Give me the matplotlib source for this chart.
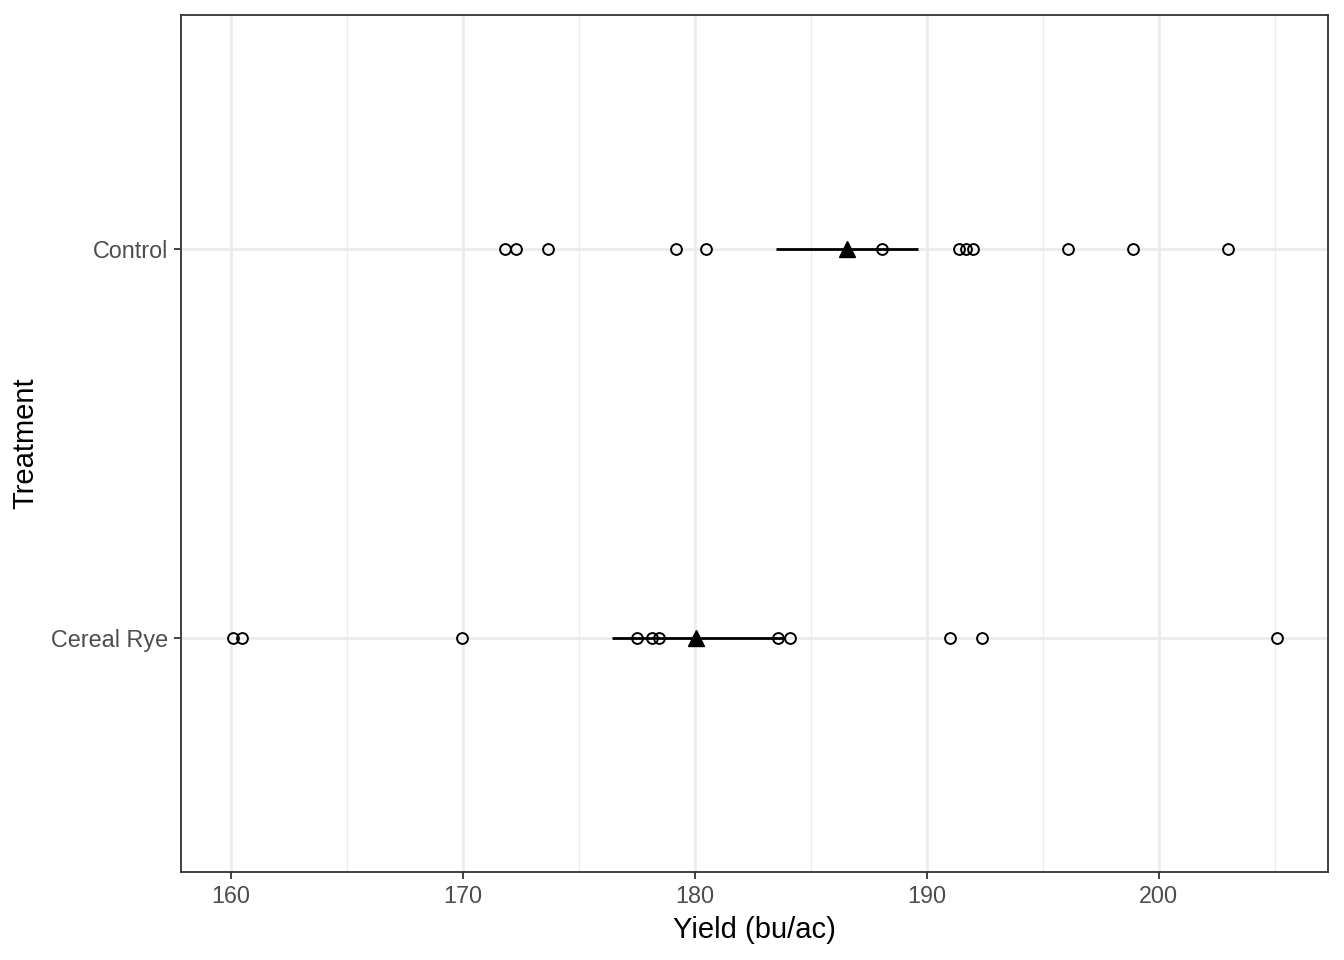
import matplotlib

matplotlib.use("Agg")
import matplotlib.pyplot as plt

plt.rcParams["font.family"] = ["Liberation Sans", "DejaVu Sans"]

# --------------------------------------------------------------------- #
# Data
# --------------------------------------------------------------------- #
treatments = ["Cereal Rye", "Control"]

control_yield = [171.81, 172.28, 173.66, 179.18, 180.47, 188.06,
                 191.38, 191.68, 191.98, 196.08, 198.88, 202.97]
rye_yield = [160.09, 160.47, 169.96, 177.50, 178.15, 178.45,
             183.58, 184.09, 190.99, 192.37, 205.09]

means = [180.04, 186.55]
ci_low = [176.43, 183.49]
ci_high = [183.90, 189.61]

raw = {"Cereal Rye": rye_yield, "Control": control_yield}

# --------------------------------------------------------------------- #
# Plot
# --------------------------------------------------------------------- #
fig = plt.figure(figsize=(13.44, 9.6), dpi=100)
ax = fig.add_axes([181 / 1344, 88 / 960, 1147 / 1344, 857 / 960])

grey92 = "#EBEBEB"
for x in [160, 170, 180, 190, 200]:
    ax.axvline(x, color=grey92, lw=1.9, zorder=0)
for x in [165, 175, 185, 195, 205]:
    ax.axvline(x, color=grey92, lw=1.0, zorder=0)
for y in [1, 2]:
    ax.axhline(y, color=grey92, lw=1.9, zorder=0)

for i, t in enumerate(treatments, start=1):
    vals = raw[t]
    ax.hlines(i, ci_low[i - 1], ci_high[i - 1], color="black", lw=2.0, zorder=2)
    ax.plot(vals, [i] * len(vals), "o", mfc="none", mec="black",
            ms=7.8, mew=1.4, zorder=3)
    ax.plot(means[i - 1], i, "^", color="black", ms=12, zorder=4)

ax.set_xlim(157.84, 207.30)
ax.set_ylim(0.4, 2.6)
ax.set_xticks([160, 170, 180, 190, 200])
ax.set_yticks([1, 2])
ax.set_yticklabels(treatments)

ax.tick_params(axis="both", colors="#333333", length=5.3, width=1.3,
               labelsize=16.8, labelcolor="#4D4D4D", pad=4)
for s in ax.spines.values():
    s.set_color("#333333")
    s.set_linewidth(1.3)

ax.set_xlabel("Yield (bu/ac)", fontsize=21, color="black", labelpad=6)
ax.set_ylabel("Treatment", fontsize=21, color="black", labelpad=8)

fig.savefig("out.png", dpi=100)
